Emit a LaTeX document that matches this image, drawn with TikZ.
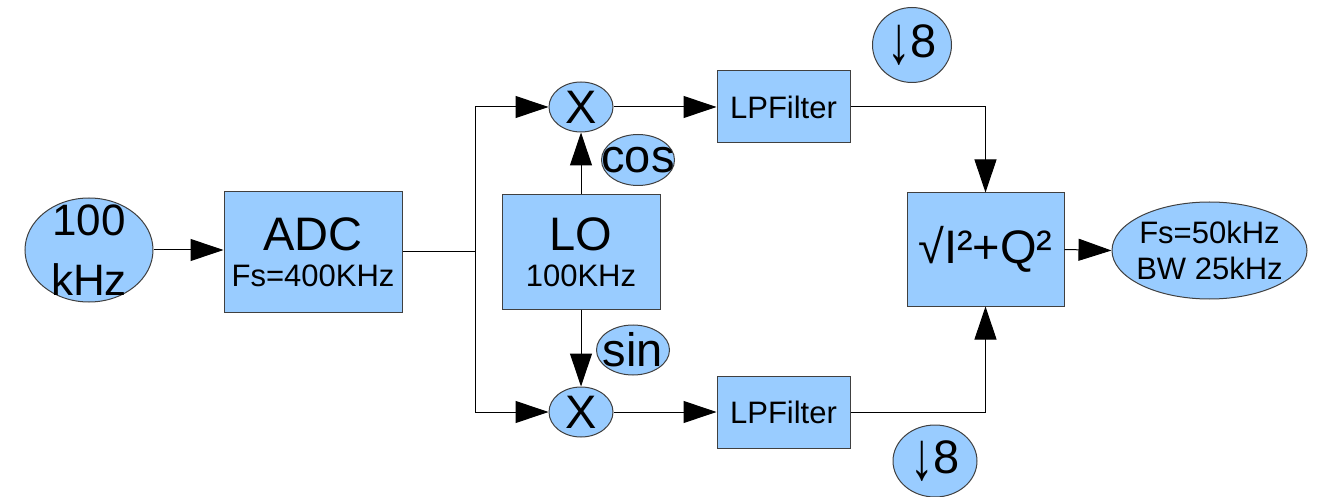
\documentclass[tikz,border=0pt]{standalone}
\usepackage{fontspec}
\setmainfont{Liberation Sans}
\usetikzlibrary{shapes.geometric}
\usetikzlibrary{arrows.meta}

\definecolor{skyblue}{RGB}{153,204,255}
\newcommand{\bigtxt}{\fontsize{47}{54}\selectfont}
\newcommand{\smalltxt}{\fontsize{31}{36}\selectfont}
\newcommand{\downby}{\raisebox{-6pt}{\scalebox{1}[1.45]{↓}}}

\begin{document}
\begin{tikzpicture}[x=1pt, y=-1pt,
	block/.style={draw=black!75, fill=skyblue, line width=1pt, inner sep=0pt, font=\smalltxt, align=center},
	blob/.style={ellipse, draw=black!75, fill=skyblue, line width=1pt, inner sep=0pt},
	wire/.style={line width=1pt},
	arr/.style={line width=1pt, -{Triangle[length=33pt,width=22pt]}}]
	\useasboundingbox (0,0) rectangle (1326,497);
	% input and converter
	\node[blob, minimum width=128pt, minimum height=104pt,
		label={[align=center, font=\fontsize{44}{50}\selectfont]center:{100\\[10pt]kHz}}] (src) at (89, 250) {};
	\node[block, minimum width=178pt, minimum height=120pt] (adc) at (313, 252) {{\bigtxt ADC}\\Fs=400KHz};
	\coordinate (split) at (475, 252);
	% mixers and oscillator
	\node[blob, minimum width=64pt, minimum height=50pt, label={[font=\bigtxt]center:X}] (mixI) at (581, 107) {};
	\node[blob, minimum width=64pt, minimum height=50pt, label={[font=\bigtxt]center:X}] (mixQ) at (581, 412) {};
	\node[block, minimum width=158pt, minimum height=114pt] (lo) at (581, 252) {{\bigtxt LO}\\100KHz};
	\node[blob, minimum width=73pt, minimum height=51pt, label={[font=\bigtxt]center:cos}] (cos) at (638, 160) {};
	\node[blob, minimum width=73pt, minimum height=50pt, label={[font=\bigtxt]center:sin}] (sin) at (633, 350) {};
	% filters and decimation
	\node[block, minimum width=133pt, minimum height=72pt] (lpfI) at (783.5, 107) {LPFilter};
	\node[block, minimum width=133pt, minimum height=72pt] (lpfQ) at (783.5, 412) {LPFilter};
	\node[blob, minimum width=79pt, minimum height=75pt, label={[font=\bigtxt]center:\downby8}] (decI) at (912, 45) {};
	\node[blob, minimum width=84pt, minimum height=72pt, label={[font=\bigtxt]center:\downby8}] (decQ) at (935, 461) {};
	% magnitude and output
	\node[block, minimum width=157pt, minimum height=113pt, font=\bigtxt] (mag) at (985.5, 249.5) {√I²+Q²};
	\node[blob, minimum width=195pt, minimum height=97pt,
		label={[align=center, font=\smalltxt]center:{Fs=50kHz\\BW 25kHz}}] (out) at (1209.5, 250.5) {};

	\draw [arr] (src.east) to (src.east -| adc.west);
	\draw [wire] (adc.east) to (split);
	\draw [arr] (split) |- (mixI.west);
	\draw [arr] (split) |- (mixQ.west);
	\draw [arr] (lo.north) to (mixI.south);
	\draw [arr] (lo.south) to (mixQ.north);
	\draw [arr] (mixI.east) to (lpfI.west);
	\draw [arr] (mixQ.east) to (lpfQ.west);
	\draw [arr] (lpfI.east) -| (mag.north);
	\draw [arr] (lpfQ.east) -| (mag.south);
	\draw [arr] (mag.east) to (out.west);
\end{tikzpicture}
\end{document}
